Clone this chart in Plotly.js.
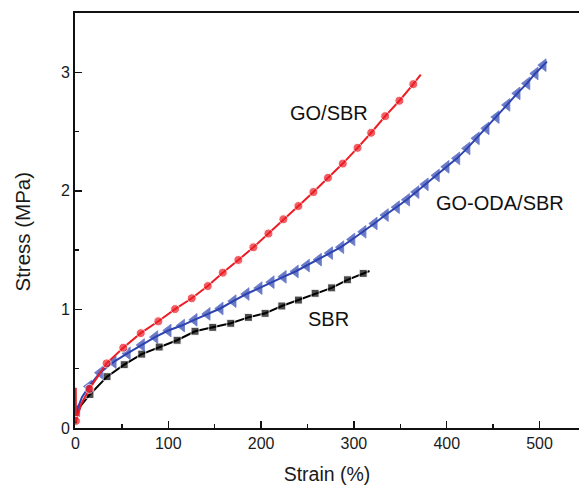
<!DOCTYPE html>
<html>
<head>
<meta charset="utf-8">
<script src="https://cdn.plot.ly/plotly-3.0.1.min.js"></script>
<style>html,body{margin:0;padding:0;background:#fff;}#chart{width:579px;height:485px;}</style>
</head>
<body>
<div id="chart"></div>
<script>
// GO/SBR (red circles)
const goSbrStrain = [0.3, 0.5, 6, 15, 33.6, 51.5, 70.3, 89.3, 107.3, 125.3, 142.5, 158.7, 175.5, 191.7, 207.9, 224, 240.2, 256.4, 272, 288, 303.9, 318.6, 333.7, 349, 364, 372];
const goSbrStress = [0.34, 0.06, 0.2, 0.33, 0.545, 0.677, 0.80, 0.90, 1.003, 1.094, 1.197, 1.31, 1.417, 1.524, 1.64, 1.76, 1.872, 1.99, 2.11, 2.23, 2.363, 2.49, 2.63, 2.76, 2.90, 2.98];
// GO-ODA/SBR (blue triangles)
const goOdaStrain = [0.4, 1.6, 7, 14.5, 26.4, 40.8, 56, 71.3, 85.7, 100, 114.5, 128, 142, 156, 170, 184, 198, 211, 224, 237, 249, 262, 274, 286, 298, 310, 322, 334, 346, 357, 367, 377, 389, 399.5, 411, 422, 432, 442.6, 453.4, 465, 476, 486.5, 495.4, 504, 508];
const goOdaStress = [0.06, 0.15, 0.26, 0.35, 0.466, 0.555, 0.63, 0.70, 0.767, 0.822, 0.864, 0.912, 0.962, 1.008, 1.07, 1.13, 1.18, 1.23, 1.275, 1.32, 1.37, 1.42, 1.475, 1.525, 1.59, 1.655, 1.725, 1.796, 1.862, 1.925, 1.99, 2.055, 2.13, 2.203, 2.274, 2.358, 2.443, 2.527, 2.622, 2.725, 2.822, 2.906, 2.99, 3.06, 3.09];
// SBR (black squares)
const sbrStrain = [0.4, 1.5, 6, 15.6, 34, 52.5, 71.4, 90.2, 109.5, 128.8, 147.9, 167.3, 186.3, 204.3, 222.3, 240.2, 258.2, 276, 293, 310, 316.8];
const sbrStress = [0.04, 0.11, 0.19, 0.283, 0.433, 0.534, 0.623, 0.683, 0.74, 0.816, 0.849, 0.883, 0.933, 0.967, 1.029, 1.079, 1.136, 1.182, 1.25, 1.304, 1.324];

const xTicks = [0, 100, 200, 300, 400, 500];
const yTicks = [0, 1, 2, 3];
const labels = ['GO/SBR', 'GO-ODA/SBR', 'SBR'];

function sizes(n, size, skip) {
  const s = [];
  for (let i = 0; i < n; i++) s.push(skip.indexOf(i) >= 0 || (skip.indexOf(-1) >= 0 && i === n - 1) ? 0 : size);
  return s;
}

const traces = [
  {x: sbrStrain, y: sbrStress, mode: 'lines+markers', name: labels[2],
   line: {color: '#000000', width: 2},
   marker: {symbol: 'square', color: '#000000', size: sizes(sbrStrain.length, 8, [0, 1, 2, -1])}},
  {x: goOdaStrain, y: goOdaStress, mode: 'lines+markers', name: labels[1],
   line: {color: '#2c43b0', width: 2},
   marker: {symbol: 'triangle-left', color: '#2c43b0', line: {color: '#2c43b0', width: 0.8},
            size: sizes(goOdaStrain.length, 11, [0, 2, -1])}},
  {x: goSbrStrain, y: goSbrStress, mode: 'lines+markers', name: labels[0],
   line: {color: '#ec1c24', width: 2},
   marker: {symbol: 'circle', color: '#ec1c24', size: sizes(goSbrStrain.length, 9, [0, 2, -1])}}
];

const ff = '"Liberation Sans", Arial, sans-serif';
const txt = '#1a1a1a';

const layout = {
  width: 579, height: 485,
  margin: {l: 75, r: 0, t: 13, b: 57, pad: 0},
  paper_bgcolor: '#ffffff', plot_bgcolor: '#ffffff',
  showlegend: false,
  font: {family: ff, color: txt},
  xaxis: {
    range: [-0.5, 542.5], tickvals: xTicks, ticktext: xTicks.map(String),
    ticks: 'inside', ticklen: 7, tickwidth: 1.5, tickcolor: '#111',
    minor: {ticks: 'inside', dtick: 50, ticklen: 4, tickwidth: 1.5, tickcolor: '#111'},
    showline: true, linecolor: '#111', linewidth: 2, mirror: true,
    showgrid: false, zeroline: false,
    tickfont: {family: ff, size: 16, color: txt},
    title: {text: 'Strain (%)', font: {family: ff, size: 19.5, color: txt}, standoff: 20}
  },
  yaxis: {
    range: [0, 3.5], tickvals: yTicks, ticktext: yTicks.map(String),
    ticks: 'inside', ticklen: 7, tickwidth: 1.5, tickcolor: '#111',
    minor: {ticks: 'inside', dtick: 0.5, ticklen: 4, tickwidth: 1.5, tickcolor: '#111'},
    showline: true, linecolor: '#111', linewidth: 2, mirror: false,
    showgrid: false, zeroline: false,
    tickfont: {family: ff, size: 16, color: txt}
  },
  annotations: [
    {xref: 'paper', yref: 'paper', x: (22 - 75) / 504, y: (428 - 231.5) / 415, xanchor: 'center', yanchor: 'middle',
     text: 'Stress (MPa)', textangle: -90, showarrow: false, font: {family: ff, size: 20.5, color: txt}},
    {x: 273.3, y: 2.656, text: labels[0], showarrow: false, font: {family: ff, size: 20, color: '#111'}},
    {x: 457.1, y: 1.897, text: labels[1], showarrow: false, font: {family: ff, size: 20, color: '#111'}},
    {x: 272.8, y: 0.919, text: labels[2], showarrow: false, font: {family: ff, size: 20, color: '#111'}}
  ]
};

Plotly.newPlot('chart', traces, layout, {displayModeBar: false, staticPlot: true});
</script>
</body>
</html>
